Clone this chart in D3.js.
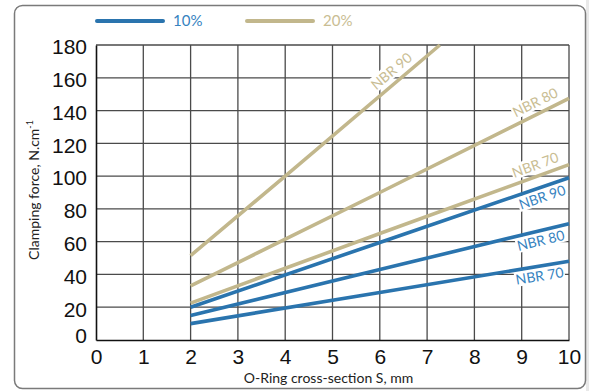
<!DOCTYPE html>
<html lang="en">
<head>
<meta charset="UTF-8">
<title>Clamping force vs O-Ring cross-section</title>
<style>
  body { margin: 0; background: #fff; }
  svg { display: block; font-family: Lato, "Open Sans", sans-serif; }
  .grid line { stroke: #4a4a4a; stroke-width: 1.3; }
  .tick text { font-size: 21px; fill: #111; }
  .nbr { font-size: 14px; }
</style>
</head>
<body>
<svg id="chart" width="589" height="391"></svg>
<script src="https://d3js.org/d3.v7.min.js"></script>
<script>
// values
const xTicks = [0, 1, 2, 3, 4, 5, 6, 7, 8, 9, 10];
const yTicks = [0, 20, 40, 60, 80, 100, 120, 140, 160, 180];

const blue70 = [[2, 10], [6, 29], [10, 48]];
const blue80 = [[2, 15], [6, 43], [10, 71]];
const blue90 = [[2, 20], [6, 59.5], [10, 99]];
const tan70 = [[2, 22.5], [6, 65], [10, 107]];
const tan80 = [[2, 33], [6, 90], [10, 147.5]];
const tan90 = [[2, 51.5], [4, 100], [7.27, 180]];

const legendNames = ["10%", "20%"];
const colors = { blue: "#2a74ae", tan: "#c2b78c" };
const textColors = { blue: "#3683bf", tan: "#c9bd93" };

const series = [
  { data: blue70, col: "blue", label: "NBR 70", at: 9.85, side: 1 },
  { data: blue80, col: "blue", label: "NBR 80", at: 9.85, side: 1 },
  { data: blue90, col: "blue", label: "NBR 90", at: 9.85, side: 1 },
  { data: tan70, col: "tan", label: "NBR 70", at: 9.85, side: -1 },
  { data: tan80, col: "tan", label: "NBR 80", at: 9.85, side: -1 },
  { data: tan90, col: "tan", label: "NBR 90", at: 6.4, side: -1, mid: true }
];

const svg = d3.select("#chart");

// outer frame
svg.append("rect").attr("x", 586).attr("y", 0).attr("width", 3).attr("height", 391).attr("fill", "#e9e9e9");
svg.append("rect")
  .attr("x", 14.5).attr("y", 5.5).attr("width", 571).attr("height", 383)
  .attr("rx", 8).attr("fill", "#fff").attr("stroke", "#7a7a7a").attr("stroke-width", 1.5);

const x = d3.scaleLinear().domain([0, 10]).range([96, 569]);
const y = d3.scaleLinear().domain([0, 180]).range([340, 45]);

// grid
const grid = svg.append("g").attr("class", "grid");
grid.selectAll(".v").data(xTicks.slice(1)).enter().append("line")
  .attr("x1", d => x(d)).attr("x2", d => x(d)).attr("y1", y(0)).attr("y2", y(180));
grid.selectAll(".h").data(yTicks.slice(1)).enter().append("line")
  .attr("x1", x(0)).attr("x2", x(10)).attr("y1", d => y(d)).attr("y2", d => y(d));

// axes
const xAxis = svg.append("g").attr("transform", `translate(0,${y(0)})`)
  .call(d3.axisBottom(x).tickValues(xTicks).tickSize(0).tickPadding(6));
xAxis.select(".domain").attr("stroke", "#111").attr("stroke-width", 1.6);
xAxis.selectAll(".tick text").attr("dy", "0.85em");

const yAxis = svg.append("g").attr("transform", `translate(${x(0)},0)`)
  .call(d3.axisLeft(y).tickValues(yTicks).tickSize(0).tickPadding(9));
yAxis.select(".domain").attr("stroke", "#111").attr("stroke-width", 1.6);
yAxis.selectAll(".tick text").attr("dy", d => d === 0 ? "0.12em" : "0.42em");

// axis titles
svg.append("text")
  .attr("x", x(5) - 4).attr("y", 383)
  .attr("text-anchor", "middle").attr("font-size", 14).attr("fill", "#222")
  .text("O-Ring cross-section S, mm");

const yt = svg.append("text")
  .attr("transform", "translate(39,190) rotate(-90)")
  .attr("text-anchor", "middle").attr("font-size", 14).attr("fill", "#222");
yt.append("tspan").text("Clamping force, N.cm");
yt.append("tspan").attr("font-size", 9).attr("dy", -6).text("-1");

// line labels, rotated along each line, on a white patch that hides the grid
const line = d3.line().x(d => x(d[0])).y(d => y(d[1]));
series.forEach(s => {
  const a = s.data[0], b = s.data[s.data.length - 1];
  const px0 = x(a[0]), py0 = y(a[1]), px1 = x(b[0]), py1 = y(b[1]);
  const ang = Math.atan2(py1 - py0, px1 - px0) * 180 / Math.PI;
  const t = (s.at - a[0]) / (b[0] - a[0]);
  const px = x(s.at), py = py0 + t * (py1 - py0);
  const g = svg.append("g").attr("transform", `translate(${px},${py}) rotate(${ang})`);
  const txt = g.append("text")
    .attr("class", "nbr")
    .attr("text-anchor", s.mid ? "middle" : "end")
    .attr("dy", s.side > 0 ? "1.05em" : "-0.45em")
    .attr("fill", textColors[s.col])
    .text(s.label);
  const bb = txt.node().getBBox();
  g.insert("rect", "text")
    .attr("x", bb.x - 1).attr("y", bb.y + 1)
    .attr("width", bb.width + 2).attr("height", bb.height - 2)
    .attr("fill", "#fff");
});

svg.selectAll(".series").data(series).enter().append("path")
  .attr("d", d => line(d.data))
  .attr("fill", "none")
  .attr("stroke", d => colors[d.col])
  .attr("stroke-width", 3.6);

// legend
const legend = svg.selectAll(".legend").data(legendNames).enter().append("g")
  .attr("transform", (d, i) => `translate(${97 + i * 150},21)`);
legend.append("line")
  .attr("x1", 0).attr("x2", 66)
  .attr("stroke", (d, i) => colors[i ? "tan" : "blue"])
  .attr("stroke-width", 4).attr("stroke-linecap", "round");
legend.append("text")
  .attr("x", 76).attr("dy", "0.36em").attr("font-size", 15)
  .attr("fill", (d, i) => textColors[i ? "tan" : "blue"])
  .text(d => d);
</script>
</body>
</html>
